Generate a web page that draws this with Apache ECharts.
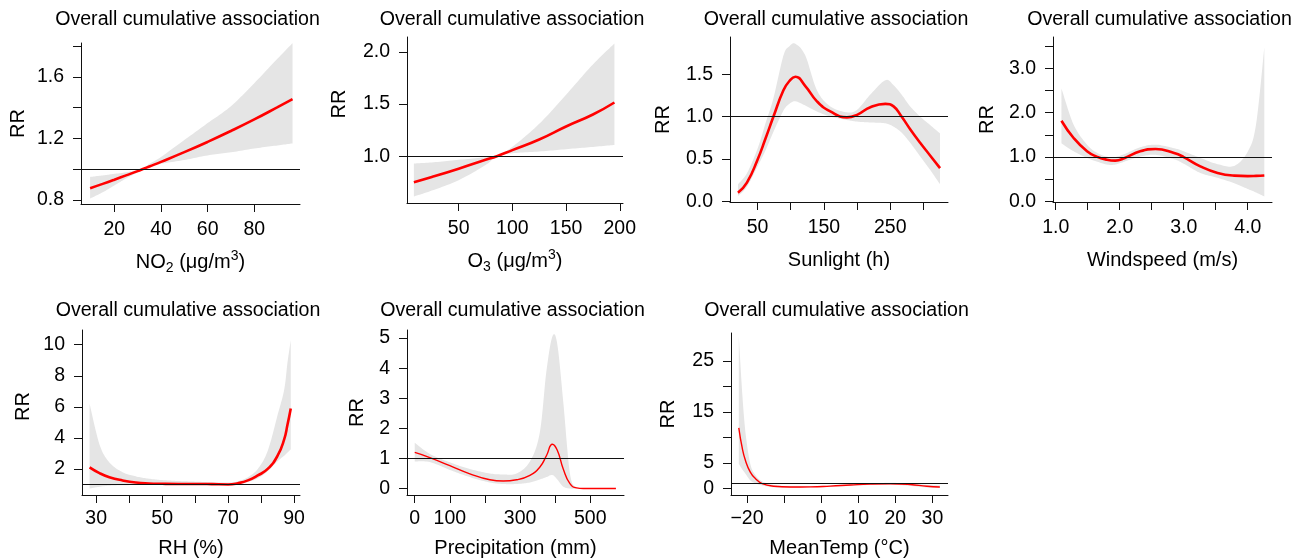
<!DOCTYPE html>
<html>
<head>
<meta charset="utf-8">
<script src="https://cdn.jsdelivr.net/npm/echarts@6/dist/echarts.min.js"></script>
<style>
  html, body { margin: 0; padding: 0; background: #ffffff; }
  #chart { width: 1291px; height: 559px; }
</style>
</head>
<body>
<div id="chart"></div>
<script>
// ---- Overall cumulative association: relative risk (RR) with 95% CI ----

// NO2 (µg/m3)
const no2X  = [9.6, 15, 20, 25, 30, 32.5, 35, 40, 50, 60, 70, 80, 90, 96.4];
const no2RR = [0.877, 0.905, 0.932, 0.960, 0.988, 1.003, 1.018, 1.048, 1.111, 1.178, 1.249, 1.324, 1.404, 1.456];
const no2Lo = [0.81, 0.85, 0.895, 0.94, 0.98, 1.0, 1.01, 1.035, 1.06, 1.09, 1.11, 1.135, 1.155, 1.168];
const no2Hi = [0.95, 0.96, 0.97, 0.98, 0.995, 1.006, 1.035, 1.08, 1.19, 1.30, 1.41, 1.56, 1.72, 1.82];

// O3 (µg/m3)
const o3X  = [8.3, 25, 50, 75, 85.6, 100, 125, 150, 175, 195];
const o3RR = [0.75, 0.80, 0.88, 0.965, 1.0, 1.058, 1.16, 1.285, 1.40, 1.515];
const o3Lo = [0.614, 0.67, 0.77, 0.915, 1.0, 1.028, 1.045, 1.067, 1.089, 1.108];
const o3Hi = [0.93, 0.94, 0.965, 0.99, 1.0, 1.09, 1.31, 1.59, 1.88, 2.08];

// Sunlight (h)
const sunX  = [20.5, 34, 50, 62, 74, 89, 98, 107, 122, 139.5, 159.6, 184.7, 200, 220, 242.6, 255, 267, 280, 295, 310, 325];
const sunRR = [0.10, 0.22, 0.49, 0.74, 1.0, 1.31, 1.42, 1.47, 1.36, 1.18, 1.06, 0.99, 1.02, 1.11, 1.15, 1.12, 1.0, 0.85, 0.69, 0.54, 0.39];
const sunLo = [0.06, 0.17, 0.41, 0.60, 0.82, 1.07, 1.15, 1.18, 1.13, 1.06, 1.0, 0.96, 0.94, 0.93, 0.92, 0.88, 0.81, 0.69, 0.53, 0.37, 0.20];
const sunHi = [0.20, 0.33, 0.62, 0.92, 1.22, 1.72, 1.83, 1.86, 1.72, 1.31, 1.12, 1.05, 1.08, 1.26, 1.43, 1.37, 1.26, 1.12, 1.0, 0.9, 0.80];

// Windspeed (m/s)
const windX  = [1.09, 1.28, 1.49, 1.64, 1.8, 1.93, 2.08, 2.32, 2.56, 2.85, 3.0, 3.26, 3.53, 3.79, 4.0, 4.13, 4.26];
const windRR = [1.82, 1.43, 1.13, 1.01, 0.94, 0.92, 0.98, 1.13, 1.18, 1.09, 1.0, 0.79, 0.64, 0.58, 0.57, 0.575, 0.585];
const windLo = [1.31, 1.13, 0.98, 0.90, 0.83, 0.83, 0.90, 1.01, 1.05, 0.95, 0.85, 0.64, 0.53, 0.41, 0.28, 0.20, 0.11];
const windHi = [2.55, 1.73, 1.28, 1.10, 1.01, 1.0, 1.07, 1.22, 1.28, 1.2, 1.13, 0.98, 0.84, 0.80, 1.12, 1.73, 3.48];

// RH (%)
const rhX  = [28, 31, 34, 38, 42, 46, 50, 55, 60, 65, 70, 73, 76, 79, 82, 85, 87, 88, 89];
const rhRR = [2.1, 1.73, 1.47, 1.26, 1.12, 1.06, 1.04, 1.03, 1.03, 1.02, 1.0, 1.08, 1.26, 1.58, 2.0, 2.85, 3.9, 4.84, 5.9];
const rhLo = [0.74, 0.85, 0.92, 0.95, 0.96, 0.97, 0.97, 0.98, 0.98, 0.98, 0.98, 1.0, 1.15, 1.4, 1.85, 2.5, 2.85, 3.05, 3.26];
const rhHi = [6.2, 3.58, 2.42, 1.79, 1.52, 1.37, 1.28, 1.22, 1.18, 1.14, 1.12, 1.2, 1.47, 2.0, 3.16, 5.47, 7.1, 8.85, 10.3];

// Precipitation (mm)
const precX  = [0, 43, 100, 157, 214, 252, 290, 328, 356, 375, 392, 406, 423, 442, 461, 480, 573];
const precRR = [1.2, 1.03, 0.76, 0.49, 0.29, 0.25, 0.29, 0.44, 0.71, 1.09, 1.47, 1.27, 0.65, 0.16, 0.02, 0.0, 0.0];
const precLo = [0.9, 0.88, 0.62, 0.38, 0.2, 0.15, 0.15, 0.2, 0.3, 0.38, 0.45, 0.3, 0.06, 0.0, 0.0, 0.0, 0.0];
const precHi = [1.52, 1.15, 0.87, 0.65, 0.5, 0.47, 0.5, 0.9, 1.85, 3.9, 5.05, 4.8, 2.88, 0.5, 0.03, 0.0, 0.0];

// MeanTemp (°C)
const tempX  = [-22.2, -21.3, -20.4, -19.1, -17.7, -15.9, -12.8, -8.3, -2.9, 2.5, 7.9, 13.2, 18.6, 24.0, 28.5, 32.0];
const tempRR = [11.9, 8.05, 5.48, 3.22, 1.93, 0.97, 0.46, 0.3, 0.32, 0.48, 0.7, 0.88, 0.95, 0.8, 0.45, 0.3];
const tempLo = [4.83, 3.8, 2.9, 1.6, 1.0, 0.6, 0.25, 0.15, 0.2, 0.35, 0.5, 0.7, 0.75, 0.5, 0.2, 0.1];
const tempHi = [29.9, 19, 11, 4.83, 2.6, 1.4, 0.7, 0.45, 0.45, 0.6, 0.85, 1.02, 1.12, 1.0, 0.7, 0.6];

// Tick positions and labelled ticks
const no2XTicks = [20, 40, 60, 80];            const no2XLabels = [20, 40, 60, 80];
const no2YTicks = [0.8, 1.0, 1.2, 1.4, 1.6, 1.8]; const no2YLabels = [0.8, 1.2, 1.6];
const o3XTicks = [50, 100, 150, 200];          const o3XLabels = [50, 100, 150, 200];
const o3YTicks = [1.0, 1.5, 2.0];              const o3YLabels = [1.0, 1.5, 2.0];
const sunXTicks = [50, 100, 150, 200, 250, 300]; const sunXLabels = [50, 150, 250];
const sunYTicks = [0, 0.5, 1.0, 1.5];          const sunYLabels = [0, 0.5, 1.0, 1.5];
const windXTicks = [1.0, 1.5, 2.0, 2.5, 3.0, 3.5, 4.0]; const windXLabels = [1.0, 2.0, 3.0, 4.0];
const windYTicks = [0, 0.5, 1.0, 1.5, 2.0, 2.5, 3.0, 3.5]; const windYLabels = [0, 1.0, 2.0, 3.0];
const rhXTicks = [30, 40, 50, 60, 70, 80, 90]; const rhXLabels = [30, 50, 70, 90];
const rhYTicks = [2, 4, 6, 8, 10];             const rhYLabels = [2, 4, 6, 8, 10];
const precXTicks = [0, 100, 200, 300, 400, 500]; const precXLabels = [0, 100, 300, 500];
const precYTicks = [0, 1, 2, 3, 4, 5];         const precYLabels = [0, 1, 2, 3, 4, 5];
const tempXTicks = [-20, -10, 0, 10, 20, 30];  const tempXLabels = [-20, 0, 10, 20, 30];
const tempYTicks = [0, 5, 10, 15, 20, 25];     const tempYLabels = [0, 5, 15, 25];

const panelTitle = 'Overall cumulative association';
const yTitle = 'RR';

// ---- Layout & style ----
const FONT = '"Liberation Sans", Arial, Helvetica, sans-serif';
const TXT = 19.5;
const NAME_TXT = 20;
const TITLE_TXT = 19.6;
const RED = '#ff0000';
const BAND = '#e5e5e5';
const INK = '#111111';

const panels = [
  { x: no2X, rr: no2RR, lo: no2Lo, hi: no2Hi, grid: { left: 81, top: 43, width: 219, height: 161 },
    xr: [5.7, 99.6], yr: [0.774, 1.821], xt: no2XTicks, xl: no2XLabels, yt: no2YTicks, yl: no2YLabels,
    xd: 0, yd: 1, xName: '{n|NO}{s|2}{n| (μg/m}{p|3}{n|)}', lw: 2.6, yGap: 53, yShift: 0, xGap: 45, xMargin: 16 },
  { x: o3X, rr: o3RR, lo: o3Lo, hi: o3Hi, grid: { left: 407, top: 37, width: 216, height: 166 },
    xr: [1.9, 203], yr: [0.551, 2.143], xt: o3XTicks, xl: o3XLabels, yt: o3YTicks, yl: o3YLabels,
    xd: 0, yd: 1, xName: '{n|O}{s|3}{n| (μg/m}{p|3}{n|)}', lw: 2.6, yGap: 58, yShift: 32, xGap: 45, xMargin: 16 },
  { x: sunX, rr: sunRR, lo: sunLo, hi: sunHi, grid: { left: 730, top: 37, width: 218, height: 165 },
    xr: [8.5, 337], yr: [-0.01, 1.94], xt: sunXTicks, xl: sunXLabels, yt: sunYTicks, yl: sunYLabels,
    xd: 0, yd: 1, xName: '{n|Sunlight (h)}', lw: 2.6, yGap: 57, yShift: 0, xGap: 45, xMargin: 16 },
  { x: windX, rr: windRR, lo: windLo, hi: windHi, grid: { left: 1053, top: 37, width: 219, height: 165 },
    xr: [0.958, 4.38], yr: [-0.015, 3.71], xt: windXTicks, xl: windXLabels, yt: windYTicks, yl: windYLabels,
    xd: 1, yd: 1, xName: '{n|Windspeed (m/s)}', lw: 2.6, yGap: 56, yShift: 0, xGap: 45, xMargin: 16 },
  { x: rhX, rr: rhRR, lo: rhLo, hi: rhHi, grid: { left: 82, top: 330, width: 218, height: 168 },
    xr: [25.7, 91.8], yr: [0.32, 10.95], xt: rhXTicks, xl: rhXLabels, yt: rhYTicks, yl: rhYLabels,
    xd: 0, yd: 0, xName: '{n|RH (%)}', lw: 2.6, yGap: 49, yShift: 12, xGap: 40, xMargin: 14 },
  { x: precX, rr: precRR, lo: precLo, hi: precHi, grid: { left: 407, top: 330, width: 217, height: 168 },
    xr: [-22, 596], yr: [-0.215, 5.27], xt: precXTicks, xl: precXLabels, yt: precYTicks, yl: precYLabels,
    xd: 0, yd: 0, xName: '{n|Precipitation (mm)}', lw: 1.4, yGap: 40, yShift: 0, xGap: 40, xMargin: 14 },
  { x: tempX, rr: tempRR, lo: tempLo, hi: tempHi, grid: { left: 731, top: 333, width: 217, height: 165 },
    xr: [-24.3, 34.2], yr: [-1.27, 30.5], xt: tempXTicks, xl: tempXLabels, yt: tempYTicks, yl: tempYLabels,
    xd: 0, yd: 0, xName: '{n|MeanTemp (°C)}', lw: 1.4, yGap: 53, yShift: 0, xGap: 40, xMargin: 14 }
];

const titleY = [19.5, 19.5, 19.5, 19.5, 310.5, 310.5, 310.5];

const nameRich = {
  n: { fontSize: NAME_TXT, fontFamily: FONT, color: '#000', lineHeight: 26, verticalAlign: 'middle' },
  s: { fontSize: 14, fontFamily: FONT, color: '#000', lineHeight: 26, verticalAlign: 'bottom' },
  p: { fontSize: 14, fontFamily: FONT, color: '#000', lineHeight: 26, verticalAlign: 'top' }
};

function fmt(v, d) {
  return v.toFixed(d).replace('-', '\u2212');
}

// Catmull-Rom densification in pixel space for smooth band edges
function spline(pts, steps) {
  const out = [];
  const n = pts.length;
  for (let i = 0; i < n - 1; i++) {
    const p0 = pts[Math.max(i - 1, 0)], p1 = pts[i], p2 = pts[i + 1], p3 = pts[Math.min(i + 2, n - 1)];
    for (let s = 0; s < steps; s++) {
      const t = s / steps, t2 = t * t, t3 = t2 * t;
      out.push([0, 1].map(k => 0.5 * (2 * p1[k] + (-p0[k] + p2[k]) * t +
        (2 * p0[k] - 5 * p1[k] + 4 * p2[k] - p3[k]) * t2 +
        (-p0[k] + 3 * p1[k] - 3 * p2[k] + p3[k]) * t3)));
    }
  }
  out.push(pts[n - 1]);
  return out;
}

const grids = [], xAxes = [], yAxes = [], series = [], graphics = [];

panels.forEach((p, i) => {
  grids.push(Object.assign({ containLabel: false }, p.grid));

  xAxes.push({
    gridIndex: i, type: 'value', min: p.xr[0], max: p.xr[1],
    axisLine: { show: true, onZero: false, lineStyle: { color: INK, width: 1 } },
    axisTick: { show: true, length: 8, customValues: p.xt, lineStyle: { color: INK, width: 1 } },
    axisLabel: { customValues: p.xl, margin: p.xMargin, color: '#000', fontSize: TXT, fontFamily: FONT,
                 formatter: v => fmt(v, p.xd) },
    splitLine: { show: false },
    name: p.xName, nameLocation: 'middle', nameGap: p.xGap,
    nameTextStyle: { rich: nameRich }
  });

  yAxes.push({
    gridIndex: i, type: 'value', min: p.yr[0], max: p.yr[1],
    axisLine: { show: true, onZero: false, lineStyle: { color: INK, width: 1 } },
    axisTick: { show: true, length: 8, customValues: p.yt, lineStyle: { color: INK, width: 1 } },
    axisLabel: { customValues: p.yl, margin: 17, color: '#000', fontSize: TXT, fontFamily: FONT,
                 formatter: v => fmt(v, p.yd) },
    splitLine: { show: false },
    name: yTitle, nameLocation: 'middle', nameGap: p.yGap,
    nameTextStyle: { color: '#000', fontSize: NAME_TXT, fontFamily: FONT, padding: [0, 0, 0, p.yShift] }
  });

  // confidence band
  series.push({
    type: 'custom', xAxisIndex: i, yAxisIndex: i, silent: true, z: 1, clip: true,
    data: [[p.x[0], p.lo[0]]],
    renderItem: (params, api) => {
      const up = p.x.map((v, j) => api.coord([v, p.hi[j]]));
      const dn = p.x.map((v, j) => api.coord([v, p.lo[j]])).reverse();
      const pts = spline(up, 12).concat(spline(dn, 12));
      return { type: 'polygon', shape: { points: pts }, style: { fill: BAND } };
    }
  });

  // estimated RR curve + reference line at RR = 1
  series.push({
    type: 'line', xAxisIndex: i, yAxisIndex: i, silent: true, z: 3,
    data: p.x.map((v, j) => [v, p.rr[j]]),
    smooth: 0.5, symbol: 'none', clip: true,
    lineStyle: { color: RED, width: p.lw },
    markLine: {
      silent: true, symbol: ['none', 'none'], label: { show: false },
      lineStyle: { color: INK, width: 1.2, type: 'solid' },
      data: [{ yAxis: 1 }]
    }
  });

  graphics.push({
    type: 'text', x: p.grid.left + p.grid.width / 2 - 3, y: titleY[i],
    style: { text: panelTitle, font: `${TITLE_TXT}px ${FONT}`, fill: '#000',
             textAlign: 'center', textVerticalAlign: 'middle' }
  });
});

const chart = echarts.init(document.getElementById('chart'), null, { renderer: 'canvas' });
chart.setOption({
  animation: false,
  backgroundColor: '#ffffff',
  grid: grids,
  xAxis: xAxes,
  yAxis: yAxes,
  series: series,
  graphic: graphics
});
</script>
</body>
</html>
